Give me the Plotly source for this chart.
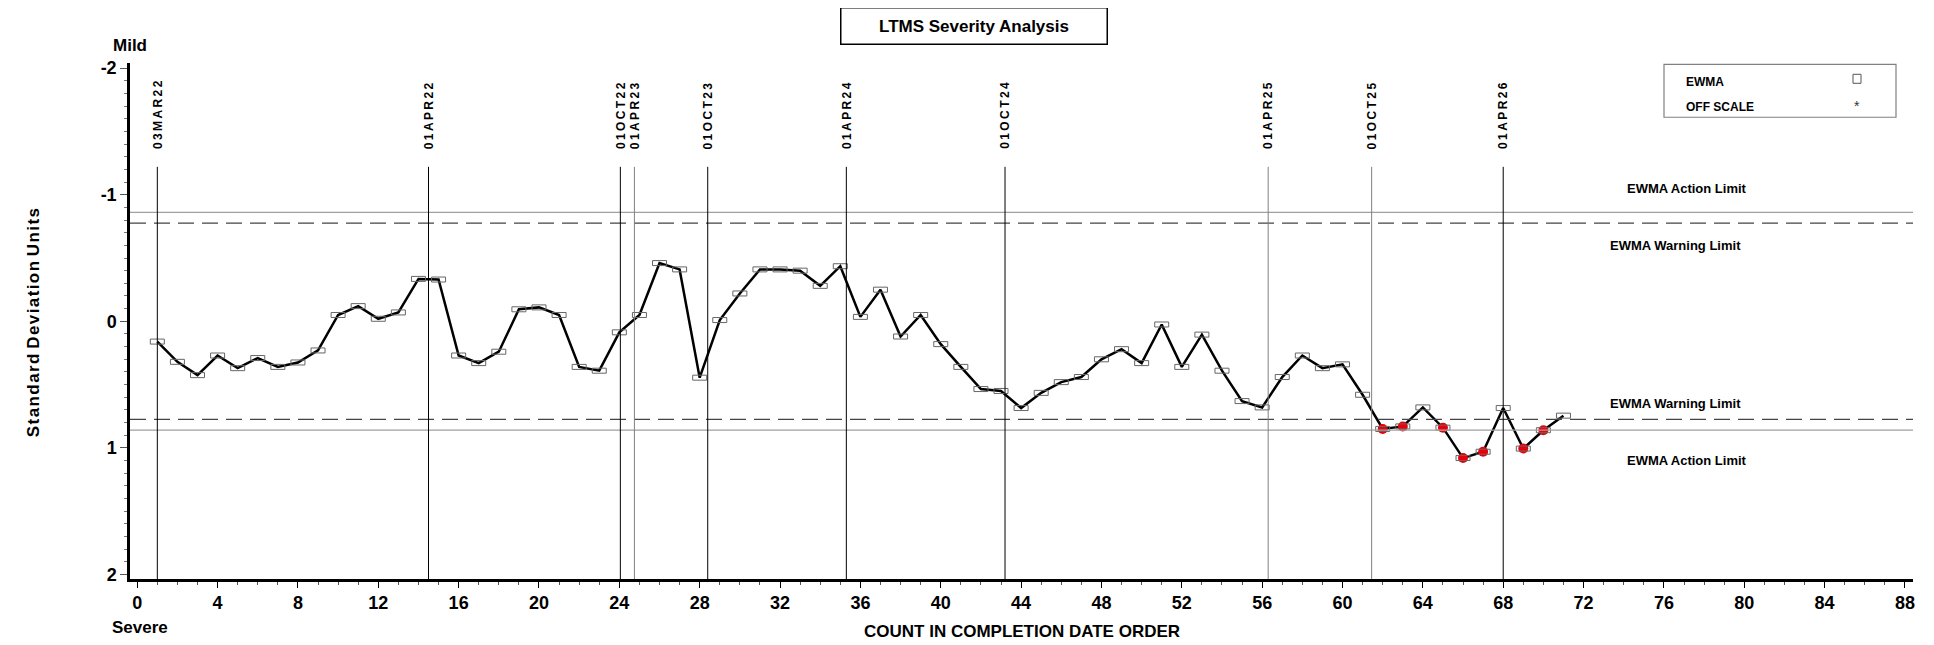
import plotly.graph_objects as go

# EWMA severity values in completion-date order
test_count = list(range(1, 72))
ewma = [0.16, 0.32, 0.425, 0.27, 0.37, 0.29, 0.36, 0.325, 0.23, -0.05,
        -0.12, -0.02, -0.07, -0.335, -0.33, 0.27, 0.33, 0.24, -0.095, -0.11,
        -0.05, 0.36, 0.39, 0.087, -0.05, -0.46, -0.41, 0.445, -0.01, -0.22,
        -0.41, -0.41, -0.40, -0.28, -0.435, -0.035, -0.25, 0.12, -0.05, 0.18,
        0.36, 0.535, 0.55, 0.685, 0.565, 0.48, 0.44, 0.30, 0.22, 0.33,
        0.025, 0.36, 0.105, 0.39, 0.63, 0.68, 0.44, 0.27, 0.37, 0.34,
        0.58, 0.85, 0.83, 0.68, 0.84, 1.08, 1.03, 0.685, 1.005, 0.86, 0.745]

# points flagged in red
flagged_count = [62, 63, 65, 66, 67, 69, 70]

# date reference lines
date_pos = [1.0, 14.5, 24.05, 24.75, 28.4, 35.3, 43.2, 56.3, 61.45, 68.0]
date_label = ["03MAR22", "01APR22", "01OCT22", "01APR23", "01OCT23",
              "01APR24", "01OCT24", "01APR25", "01OCT25", "01APR26"]
date_gray = ["01APR23", "01APR25", "01OCT25"]

action_limit = 0.86
warning_limit = 0.775

x_ticks = list(range(0, 89, 4))
y_ticks = [-2, -1, 0, 1, 2]

FONT = "Liberation Sans Narrow, Liberation Sans, Arial Narrow, Arial, sans-serif"

# the page body has an 8px margin, so the figure starts at (8, 8)
OFF = 8
W, H = 1934 - OFF, 645 - OFF

# plot area in page pixels (for placing the free-standing texts)
L, R, T, B = 130, 1913, 62.7, 579


def px_x(p):
    return (p - L) / (R - L)


def px_y(p):
    return (B - p) / (B - T)


def spaced(s, sep="\u2009"):
    return sep.join(s)


fig = go.Figure()

fig.add_trace(
    go.Scatter(
        x=test_count,
        y=ewma,
        mode="lines",
        line=dict(color="black", width=2.5),
        showlegend=False,
        hoverinfo="skip",
    )
)

flag_y = [ewma[test_count.index(c)] for c in flagged_count]
fig.add_trace(
    go.Scatter(
        x=flagged_count,
        y=flag_y,
        mode="markers",
        marker=dict(color="#e8000b", size=10, line=dict(width=0)),
        showlegend=False,
    )
)

# small open rectangles on every EWMA point
for c, v in zip(test_count, ewma):
    fig.add_shape(
        type="rect",
        xref="x", yref="y",
        xsizemode="pixel", ysizemode="pixel",
        xanchor=c, yanchor=v,
        x0=-7, x1=7, y0=-2.5, y1=2.5,
        line=dict(color="#666666", width=1),
        layer="above",
    )

# limits
for lim in (-action_limit, action_limit):
    fig.add_hline(y=lim, line=dict(color="#a0a0a0", width=1.2))
for lim in (-warning_limit, warning_limit):
    fig.add_hline(y=lim, line=dict(color="#444444", width=1.2, dash="16px,8px"))

# date lines and labels
for pos, lab in zip(date_pos, date_label):
    col = "#808080" if lab in date_gray else "black"
    fig.add_shape(
        type="line", xref="x", yref="y",
        x0=pos, x1=pos, y0=-1.22, y1=2.035,
        line=dict(color=col, width=1),
    )
    fig.add_annotation(
        x=pos, y=px_y(151), xref="x", yref="paper",
        text=spaced(lab), textangle=-90, showarrow=False,
        xanchor="center", yanchor="bottom",
        font=dict(family=FONT, size=12, color="black", weight="bold"),
    )

# limit labels
limit_texts = [
    ("EWMA Action Limit", 1687, 188),
    ("EWMA Warning Limit", 1675, 245),
    ("EWMA Warning Limit", 1675, 403),
    ("EWMA Action Limit", 1687, 460),
]
for txt, xp, yp in limit_texts:
    fig.add_annotation(
        x=px_x(xp), y=px_y(yp), xref="paper", yref="paper",
        text=txt, showarrow=False, xanchor="center", yanchor="middle",
        font=dict(family=FONT, size=13, color="black", weight="bold"),
    )

# title box
fig.add_annotation(
    x=px_x(973.5), y=px_y(25.5), xref="paper", yref="paper",
    text="LTMS Severity Analysis", showarrow=False,
    xanchor="center", yanchor="middle",
    width=265, height=35, bordercolor="black", borderwidth=1.5, borderpad=0,
    font=dict(family=FONT, size=17, color="black", weight="bold"),
)

# legend box
fig.add_shape(
    type="rect", xref="paper", yref="paper",
    x0=px_x(1664), x1=px_x(1896), y0=px_y(117), y1=px_y(64),
    line=dict(color="#808080", width=1.2),
)
fig.add_annotation(
    x=px_x(1684), y=px_y(82), xref="paper", yref="paper",
    text="EWMA", showarrow=False, xanchor="left", yanchor="middle",
    font=dict(family=FONT, size=12, color="black", weight="bold"),
)
fig.add_annotation(
    x=px_x(1684), y=px_y(107), xref="paper", yref="paper",
    text="OFF SCALE", showarrow=False, xanchor="left", yanchor="middle",
    font=dict(family=FONT, size=12, color="black", weight="bold"),
)
fig.add_shape(
    type="rect", xref="paper", yref="paper",
    x0=px_x(1853), x1=px_x(1861), y0=px_y(83), y1=px_y(74),
    line=dict(color="#555555", width=1),
)
fig.add_annotation(
    x=px_x(1857), y=px_y(106), xref="paper", yref="paper",
    text="*", showarrow=False, xanchor="center", yanchor="middle",
    font=dict(family=FONT, size=14, color="#333333"),
)

# axis texts
fig.add_annotation(
    x=px_x(33), y=px_y(323), xref="paper", yref="paper",
    text=" ".join(spaced(w, "\u200a") for w in ["Standard", "Deviation", "Units"]),
    textangle=-90,
    showarrow=False, xanchor="center", yanchor="middle",
    font=dict(family=FONT, size=17, color="black", weight="bold"),
)
fig.add_annotation(
    x=px_x(1022), y=px_y(632), xref="paper", yref="paper",
    text="COUNT IN COMPLETION DATE ORDER", showarrow=False,
    xanchor="center", yanchor="middle",
    font=dict(family=FONT, size=17, color="black", weight="bold"),
)
fig.add_annotation(
    x=px_x(111), y=px_y(45), xref="paper", yref="paper",
    text="Mild", showarrow=False, xanchor="left", yanchor="middle",
    font=dict(family=FONT, size=17, color="black", weight="bold"),
)
fig.add_annotation(
    x=px_x(110), y=px_y(628), xref="paper", yref="paper",
    text="Severe", showarrow=False, xanchor="left", yanchor="middle",
    font=dict(family=FONT, size=17, color="black", weight="bold"),
)

fig.update_layout(
    width=W,
    height=H,
    margin=dict(l=L - OFF, r=W + OFF - R, t=T - OFF, b=H + OFF - B, pad=0),
    paper_bgcolor="white",
    plot_bgcolor="white",
    showlegend=False,
    xaxis=dict(
        range=[-0.36, 88.4],
        tickvals=x_ticks,
        ticks="outside", ticklen=6, tickwidth=1, tickcolor="black",
        minor=dict(dtick=1, ticks="outside", ticklen=3, tickcolor="#555555"),
        showgrid=False, zeroline=False,
        showline=True, linecolor="black", linewidth=2.5,
        tickfont=dict(family=FONT, size=18, color="black", weight="bold"),
    ),
    yaxis=dict(
        range=[2.035, -2.04],
        tickvals=y_ticks,
        ticktext=[str(v) for v in y_ticks],
        ticks="outside", ticklen=7, tickwidth=1, tickcolor="#555555",
        minor=dict(dtick=0.1, ticks="outside", ticklen=3, tickcolor="#777777"),
        showgrid=False, zeroline=False,
        showline=True, linecolor="black", linewidth=2.5,
        tickfont=dict(family=FONT, size=18, color="black", weight="bold"),
    ),
)

fig.write_html("out.html")
